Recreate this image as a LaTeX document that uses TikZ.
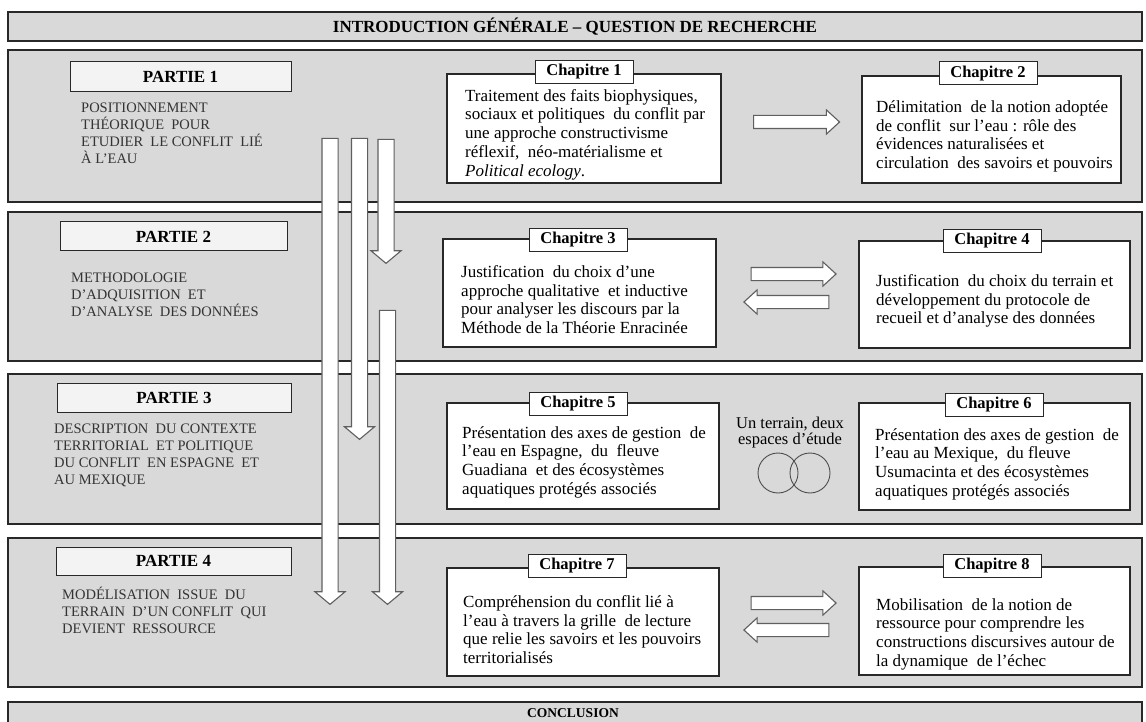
\documentclass[tikz,border=0pt]{standalone}
\usepackage{fontspec}
\setmainfont{Liberation Serif}
\usetikzlibrary{shapes.arrows,fit}
\definecolor{bandgray}{RGB}{217,217,217}
\definecolor{partfill}{RGB}{243,243,243}
\definecolor{edge}{RGB}{40,40,40}
\definecolor{arrowedge}{RGB}{95,95,95}
\begin{document}
\begin{tikzpicture}[x=1pt,y=-1pt,
 band/.style={draw=edge, line width=1.3pt, fill=bandgray, inner sep=0pt, outer sep=0pt},
 partbox/.style={draw=edge, line width=1pt, fill=partfill, inner sep=0pt, outer sep=0pt},
 parttitle/.style={inner sep=0pt, font=\fontsize{17}{19}\selectfont\bfseries},
 partdesc/.style={anchor=west, align=left, inner sep=0pt, text=black!80, font=\fontsize{14.5}{17}\selectfont},
 chbox/.style={draw=edge, line width=1.1pt, fill=white, inner sep=0pt, outer sep=0pt},
 chlabel/.style={draw=edge, line width=1pt, fill=white, minimum width=98pt, minimum height=23pt, inner sep=0pt, font=\fontsize{16.5}{18}\selectfont\bfseries},
 chtext/.style={anchor=west, align=left, inner sep=0pt, font=\fontsize{17}{18.7}\selectfont},
 harrow/.style={single arrow, draw=arrowedge, line width=1.1pt, fill=white, single arrow head extend=5.5pt, single arrow tip angle=85, inner xsep=0pt, inner ysep=6pt, outer sep=0pt},
 varrow/.style={single arrow, draw=arrowedge, line width=1.1pt, fill=white, single arrow head extend=7pt, single arrow tip angle=100, inner xsep=0pt, inner ysep=7.5pt, outer sep=0pt, rotate=-90},
 venn/.style={draw=black!70, line width=0.9pt},
]
\useasboundingbox (0,0) rectangle (1146,722);

% bands
\node[band, fit={(8,12) (1142,41)}] (intro) {};
\node[parttitle] (introtext) at (intro.center) {INTRODUCTION GÉNÉRALE – QUESTION DE RECHERCHE};
\node[band, fit={(8,50) (1142,202)}] (b1) {};
\node[band, fit={(8,212) (1142,361)}] (b2) {};
\node[band, fit={(8,374) (1142,524)}] (b3) {};
\node[band, fit={(8,538) (1142,687)}] (b4) {};
\node[band, fit={(8,702) (1142,732)}] (concl) {};
\node[parttitle, font=\fontsize{13.5}{16}\selectfont\bfseries] (concltext) at (573,713) {CONCLUSION};

% parts
\node[partbox, fit={(70,62) (291,92)}] (p1) {};
\node[parttitle] (p1t) at (p1.center) {PARTIE 1};
\node[partdesc] (p1d) at (81,133.5) {POSITIONNEMENT\\THÉORIQUE\ \ POUR\\ETUDIER\ \ LE CONFLIT\ \ LIÉ\\À L’EAU};
\node[partbox, fit={(60,222) (287,251)}] (p2) {};
\node[parttitle] (p2t) at (p2.center) {PARTIE 2};
\node[partdesc] (p2d) at (71,294.5) {METHODOLOGIE\\D’ADQUISITION\ \ ET\\D’ANALYSE\ \ DES DONNÉES};
\node[partbox, fit={(57,383) (291,412)}] (p3) {};
\node[parttitle] (p3t) at (p3.center) {PARTIE 3};
\node[partdesc] (p3d) at (54,455.5) {DESCRIPTION\ \ DU CONTEXTE\\TERRITORIAL\ \ ET POLITIQUE\\DU CONFLIT\ \ EN ESPAGNE\ \ ET\\AU MEXIQUE};
\node[partbox, fit={(56,547) (291,575)}] (p4) {};
\node[parttitle] (p4t) at (p4.center) {PARTIE 4};
\node[partdesc] (p4d) at (62,610) {MODÉLISATION\ \ ISSUE\ \ DU\\TERRAIN\ \ D’UN CONFLIT\ \ QUI\\DEVIENT\ \ RESSOURCE};

% vertical arrows
\node[varrow, minimum height=466pt] (va) at (330,368) {};
\node[varrow, minimum height=301pt] (vb) at (359.5,285.5) {};
\node[varrow, minimum height=124pt] (vc) at (386,198) {};
\node[varrow, minimum height=294pt] (vd) at (387.5,454) {};

% chapter boxes
\node[chbox, fit={(447,74) (721,183)}] (c1) {};
\node[chlabel] (c1l) at (584,72) {Chapitre 1};
\node[chtext] (c1t) at (465,134.5) {Traitement des faits biophysiques,\\sociaux et politiques\ \ du conflit par\\une approche constructivisme\\réflexif,\ \ néo-matérialisme et\\\textit{Political ecology}.};

\node[chbox, fit={(862,76) (1121,183)}] (c2) {};
\node[chlabel] (c2l) at (988,73.5) {Chapitre 2};
\node[chtext] (c2t) at (876,136.5) {Délimitation\ \ de la notion adoptée\\de conflit\ \ sur l’eau : rôle des\\évidences naturalisées et\\circulation\ \ des savoirs et pouvoirs};

\node[chbox, fit={(443,239) (716,347)}] (c3) {};
\node[chlabel] (c3l) at (578,240) {Chapitre 3};
\node[chtext] (c3t) at (461,299.5) {Justification\ \ du choix d’une\\approche qualitative\ \ et inductive\\pour analyser les discours par la\\Méthode de la Théorie Enracinée};

\node[chbox, fit={(859,241) (1130,348)}] (c4) {};
\node[chlabel] (c4l) at (992,241) {Chapitre 4};
\node[chtext] (c4t) at (876,301) {Justification\ \ du choix du terrain et\\développement du protocole de\\recueil et d’analyse des données};

\node[chbox, fit={(447,403) (719,509)}] (c5) {};
\node[chlabel] (c5l) at (578,404) {Chapitre 5};
\node[chtext] (c5t) at (462,462) {Présentation des axes de gestion\ \ de\\l’eau en Espagne,\ \ du\ \ fleuve\\Guadiana\ \ et des écosystèmes\\aquatiques protégés associés};

\node[chbox, fit={(859,403) (1130,510)}] (c6) {};
\node[chlabel] (c6l) at (994,404.5) {Chapitre 6};
\node[chtext] (c6t) at (875,464) {Présentation des axes de gestion\ \ de\\l’eau au Mexique,\ \ du fleuve\\Usumacinta et des écosystèmes\\aquatiques protégés associés};

\node[chbox, fit={(447,568) (719,676)}] (c7) {};
\node[chlabel] (c7l) at (577,566) {Chapitre 7};
\node[chtext] (c7t) at (463,629.5) {Compréhension du conflit lié à\\l’eau à travers la grille\ \ de lecture\\que relie les savoirs et les pouvoirs\\territorialisés};

\node[chbox, fit={(859,567) (1130,675)}] (c8) {};
\node[chlabel] (c8l) at (992,566) {Chapitre 8};
\node[chtext] (c8t) at (876,634) {Mobilisation\ \ de la notion de\\ressource pour comprendre les\\constructions discursives autour de\\la dynamique\ \ de l’échec};

% horizontal arrows
\node[harrow, minimum height=86pt] (a12) at (793,122) {};
\node[harrow, minimum height=85pt] (a34) at (790,274) {};
\node[harrow, minimum height=85pt, rotate=180] (a43) at (790,302) {};
\node[harrow, minimum height=85pt] (a78) at (790,603) {};
\node[harrow, minimum height=85pt, rotate=180] (a87) at (790,630) {};

% un terrain, deux espaces
\node[align=center, inner sep=0pt, font=\fontsize{16.5}{16}\selectfont] (ut) at (790,433) {Un terrain, deux\\espaces d’étude};
\draw[venn] (778,473) circle[radius=20pt];
\draw[venn] (810,473) circle[radius=20pt];
\end{tikzpicture}
\end{document}
